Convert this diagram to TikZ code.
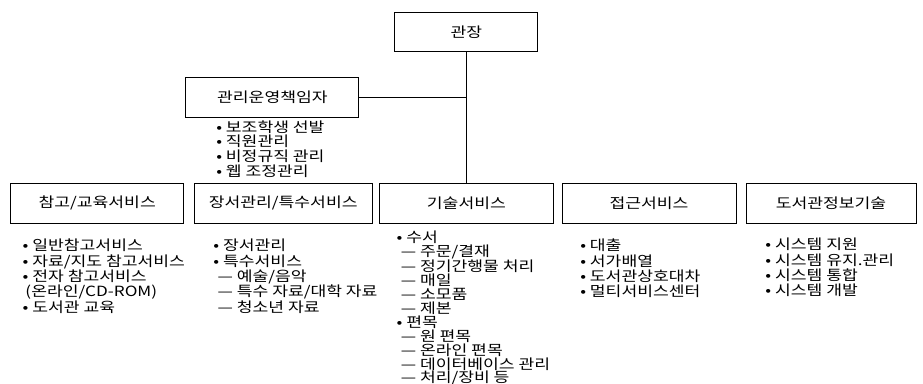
\documentclass[tikz,border=0pt]{standalone}
\usepackage{fontspec}
\setmainfont{Noto Sans CJK KR}[FakeStretch=1.22]

\begin{document}
\begin{tikzpicture}[
  boite/.style={draw, line width=0.7pt, minimum height=1cm, inner sep=0pt, font=\fontsize{10}{11}\selectfont},
  liste/.style={anchor=north west, align=left, inner sep=0pt, font=\fontsize{10}{10.9}\selectfont}
]
\useasboundingbox (0,0) rectangle (23.075,9.575);
% cadres
\node [boite, minimum width=3.575cm, minimum height=0.975cm] (chef) at (11.66,8.77) {관장};
\node [boite, minimum width=4.325cm] (resp) at (6.81,7.15) {관리운영책임자};
\node [boite, minimum width=4.33cm] (ref) at (2.43,4.5) {참고/교육서비스};
\node [boite, minimum width=4.44cm] (coll) at (7.08,4.5) {장서관리/특수서비스};
\node [boite, minimum width=4.33cm] (tech) at (11.66,4.5) {기술서비스};
\node [boite, minimum width=4.35cm] (acces) at (16.225,4.5) {접근서비스};
\node [boite, minimum width=4.25cm] (info) at (20.775,4.5) {도서관정보기술};
% liaisons
\draw [line width=0.7pt] (chef.south) -- (tech.north);
\draw [line width=0.7pt] (resp.east) -- (resp.east -| chef.south);
% listes
\node [liste, font=\fontsize{10}{10.45}\selectfont] (lresp) at (5.4,6.57) {• 보조학생 선발\\• 직원관리\\• 비정규직 관리\\• 웹 조정관리};
\node [liste] (lref) at (0.56,3.6) {• 일반참고서비스\\• 자료/지도 참고서비스\\• 전자 참고서비스\\\hspace*{2pt}(온라인/CD-ROM)\\• 도서관 교육};
\node [liste] (lcoll) at (5.33,3.6) {• 장서관리\\• 특수서비스\\\hspace*{3pt}— 예술/음악\\\hspace*{3pt}— 특수 자료/대학 자료\\\hspace*{3pt}— 청소년 자료};
\node [liste, font=\fontsize{10}{9.9}\selectfont] (ltech) at (9.91,3.82) {• 수서\\\hspace*{3pt}— 주문/결재\\\hspace*{3pt}— 정기간행물 처리\\\hspace*{3pt}— 매일\\\hspace*{3pt}— 소모품\\\hspace*{3pt}— 제본\\• 편목\\\hspace*{3pt}— 원 편목\\\hspace*{3pt}— 온라인 편목\\\hspace*{3pt}— 데이터베이스 관리\\\hspace*{3pt}— 처리/장비 등};
\node [liste] (lacces) at (14.5,3.6) {• 대출\\• 서가배열\\• 도서관상호대차\\• 멀티서비스센터};
\node [liste] (linfo) at (19.13,3.63) {• 시스템 지원\\• 시스템 유지.관리\\• 시스템 통합\\• 시스템 개발};
\end{tikzpicture}
\end{document}
